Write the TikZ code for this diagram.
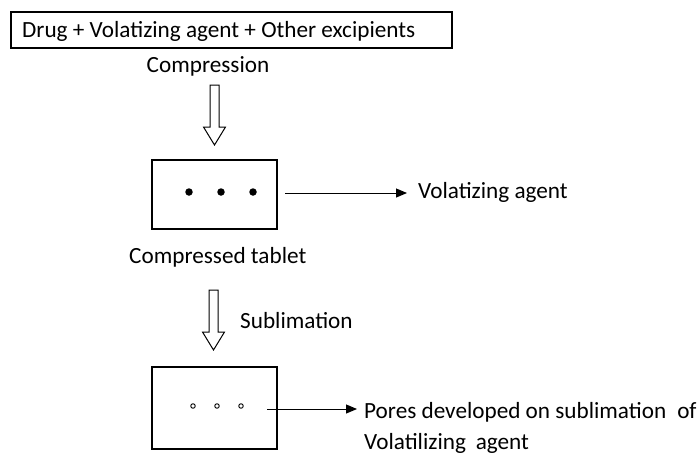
\documentclass[tikz,border=0pt]{standalone}
\usepackage{fontspec}
\setmainfont{Carlito}
\usetikzlibrary{calc,arrows.meta}
\begin{document}
\begin{tikzpicture}[x=1pt,y=-1pt,
  font=\fontsize{23.2}{34}\selectfont,
  box/.style={draw, line width=1.2pt, inner sep=0pt},
  lbl/.style={inner sep=0pt},
  dot/.style={circle, fill=black, inner sep=0pt, minimum size=7.5pt},
  pore/.style={circle, draw, line width=0.9pt, inner sep=0pt, minimum size=4.5pt},
  conn/.style={line width=1pt, -{Triangle[length=11pt,width=9pt]}},
  hollow/.style={draw, line width=1pt, fill=white}
]
\useasboundingbox (0,0) rectangle (699,456);
% top box
\node[box, minimum width=441pt, minimum height=36pt] (mix) at (231.5,30) {};
\node[lbl, anchor=base west] (mixt) at (22,37) {Drug + Volatizing agent + Other excipients};
\node[lbl, anchor=base] (comp) at (208,72) {Compression};
% hollow arrow 1
\coordinate (a1) at (214.5,85);
\coordinate (a1t) at (214.5,145);
\draw[hollow] ($(a1)+(-4.5,0)$) -- ($(a1t)+(-4.5,-18)$) -- ($(a1t)+(-11,-18)$) -- (a1t) -- ($(a1t)+(11,-18)$) -- ($(a1t)+(4.5,-18)$) -- ($(a1)+(4.5,0)$) -- cycle;
% tablet
\node[box, minimum width=125pt, minimum height=69pt] (tab) at (214.5,194.5) {};
\node[dot] (d1) at (189,192) {};
\node[dot] (d2) at (221,192) {};
\node[dot] (d3) at (253,192) {};
\coordinate (s1) at (285,193);
\node[lbl, anchor=base west] (vol) at (418,198) {Volatizing agent};
\draw[conn] (s1) -- (407,193);
\node[lbl, anchor=base west] (ctab) at (129,263) {Compressed tablet};
% hollow arrow 2
\coordinate (a2) at (213.5,290);
\coordinate (a2t) at (213.5,350);
\draw[hollow] ($(a2)+(-4.5,0)$) -- ($(a2t)+(-4.5,-18)$) -- ($(a2t)+(-11,-18)$) -- (a2t) -- ($(a2t)+(11,-18)$) -- ($(a2t)+(4.5,-18)$) -- ($(a2)+(4.5,0)$) -- cycle;
\node[lbl, anchor=base west] (sub) at (240,328) {Sublimation};
% porous tablet
\node[box, minimum width=125pt, minimum height=82pt] (ptab) at (214.5,408) {};
\node[pore] (p1) at (193,406) {};
\node[pore] (p2) at (217,406) {};
\node[pore] (p3) at (241,406) {};
\coordinate (s2) at (267,409);
\node[lbl, anchor=base west] (pores1) at (364,418) {Pores developed on sublimation\hspace{0.25em} of};
\node[lbl, anchor=base west] (pores2) at (364,449) {Volatilizing\hspace{0.2em} agent};
\draw[conn] (s2) -- (357,409);
\end{tikzpicture}
\end{document}
